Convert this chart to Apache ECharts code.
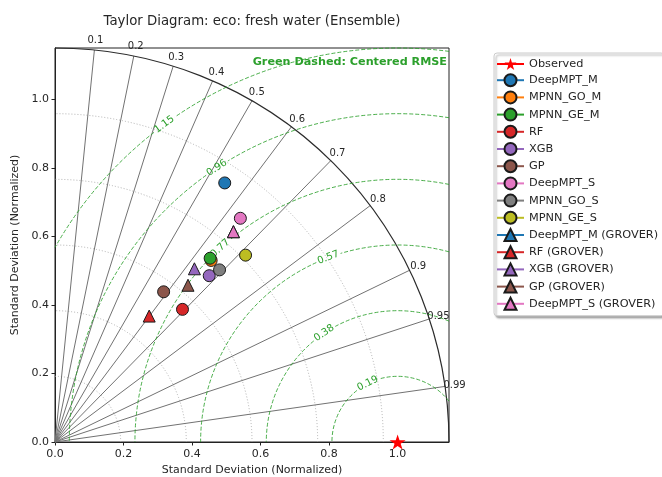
<!DOCTYPE html>
<html>
<head>
<meta charset="utf-8">
<script src="https://cdn.jsdelivr.net/npm/echarts@6/dist/echarts.min.js"></script>
<style>
html,body{margin:0;padding:0;background:#ffffff;}
#chart{width:662px;height:477px;}
</style>
</head>
<body>
<div id="chart"></div>
<script>
// ---------------- data ----------------
const titleText = 'Taylor Diagram: eco: fresh water (Ensemble)';
const axisTitle = 'Standard Deviation (Normalized)';
const rmseNote = 'Green Dashed: Centered RMSE';
const stdTicks = [0.0, 0.2, 0.4, 0.6, 0.8, 1.0];
const stdMax = 1.15;
const stdGridLevels = [0.1917, 0.3833, 0.575, 0.7667, 0.9583];
const corrTicks = [0.1, 0.2, 0.3, 0.4, 0.5, 0.6, 0.7, 0.8, 0.9, 0.95, 0.99];
const rmseLevels = [0.1917, 0.3833, 0.575, 0.7667, 0.9583, 1.15];
const rmseLabels = ['0.19', '0.38', '0.57', '0.77', '0.96', '1.15'];
const observedName = 'Observed';
const observedStd = 1.0;
const observedCorr = 1.0;
const modelNames = ['DeepMPT_M', 'MPNN_GO_M', 'MPNN_GE_M', 'RF', 'XGB', 'GP', 'DeepMPT_S', 'MPNN_GO_S', 'MPNN_GE_S',
  'DeepMPT_M (GROVER)', 'RF (GROVER)', 'XGB (GROVER)', 'GP (GROVER)', 'DeepMPT_S (GROVER)'];
const modelStd  = [0.904, 0.699, 0.702, 0.537, 0.662, 0.541, 0.848, 0.695, 0.779, 0.805, 0.459, 0.649, 0.600, 0.805];
const modelCorr = [0.548, 0.652, 0.645, 0.693, 0.680, 0.586, 0.638, 0.691, 0.714, 0.647, 0.599, 0.627, 0.647, 0.647];

// ---------------- styles / layout ----------------
const FONT = '"DejaVu Sans", "Liberation Sans", sans-serif';
const TXT = '#262626';
const GREEN = '#2ca02c';
const modelColors = ['#1f77b4', '#ff7f0e', '#2ca02c', '#d62728', '#9467bd', '#8c564b', '#e377c2', '#7f7f7f', '#bcbd22',
  '#1f77b4', '#d62728', '#9467bd', '#8c564b', '#e377c2'];
const modelSymbols = ['circle','circle','circle','circle','circle','circle','circle','circle','circle',
  'triangle','triangle','triangle','triangle','triangle'];
const rmseLabelAngles = [117, 124, 110.6, 132.5, 123.4, 126.3]; // placement of contour labels (deg around the reference point)
const corrLabelRadius = 1.178;
const STAR = 'path://M0,-10L2.245,-3.09L9.51,-3.09L3.63,1.18L5.88,8.09L0,3.82L-5.88,8.09L-3.63,1.18L-9.51,-3.09L-2.245,-3.09Z';

function toXY(std, corr) {
  return [std * corr, std * Math.sqrt(Math.max(0, 1 - corr * corr))];
}
function arcEl(cx, cy, r, a, b, style) { // a<b math degrees (counter-clockwise)
  return {
    type: 'arc',
    shape: {cx: cx, cy: cy, r: r, startAngle: -a * Math.PI / 180, endAngle: -b * Math.PI / 180, clockwise: false},
    style: Object.assign({fill: 'none'}, style),
    silent: true
  };
}
const D = 180 / Math.PI;

const series = [];

// std-dev dotted circles
series.push({
  type: 'custom', coordinateSystem: 'cartesian2d', silent: true, z: 1,
  data: stdGridLevels.map(v => [v, 0]), encode: {x: 0, y: 1},
  renderItem: function (params, api) {
    const r = api.value(0);
    const o = api.coord([0, 0]);
    const rp = api.coord([r, 0])[0] - o[0];
    return arcEl(o[0], o[1], rp, 0, 90, {stroke: '#a8a8a8', lineWidth: 0.9, lineDash: [1, 2]});
  }
});

// correlation radial lines + labels
series.push({
  type: 'custom', coordinateSystem: 'cartesian2d', silent: true, z: 2,
  data: corrTicks.map(v => [v, 0]), encode: {x: 0, y: 1},
  renderItem: function (params, api) {
    const c = api.value(0);
    const s = Math.sqrt(1 - c * c);
    const o = api.coord([0, 0]);
    const e = api.coord([stdMax * c, stdMax * s]);
    const t = api.coord([corrLabelRadius * c, corrLabelRadius * s]);
    return {
      type: 'group',
      children: [
        {type: 'line', shape: {x1: o[0], y1: o[1], x2: e[0], y2: e[1]}, style: {stroke: '#727272', lineWidth: 1}, silent: true},
        {type: 'text', x: t[0], y: t[1], silent: true,
          style: {text: String(corrTicks[params.dataIndex]), fill: TXT, font: '10px ' + FONT,
            align: 'center', verticalAlign: 'middle', textAlign: 'center', textVerticalAlign: 'middle'}}
      ]
    };
  }
});

// outer arc
series.push({
  type: 'custom', coordinateSystem: 'cartesian2d', silent: true, z: 3,
  data: [[stdMax, 0]], encode: {x: 0, y: 1},
  renderItem: function (params, api) {
    const o = api.coord([0, 0]);
    const rp = api.coord([api.value(0), 0])[0] - o[0];
    return arcEl(o[0], o[1], rp, 0, 90, {stroke: '#2b2b2b', lineWidth: 1.2});
  }
});

// centered RMSE contours (green dashed) with inline labels
series.push({
  type: 'custom', coordinateSystem: 'cartesian2d', silent: true, z: 4,
  data: rmseLevels.map(v => [v, 0]), encode: {x: 0, y: 1},
  renderItem: function (params, api) {
    const i = params.dataIndex;
    const r = api.value(0);
    const c = api.coord([observedStd, 0]);
    const rp = api.coord([observedStd + r, 0])[0] - c[0];
    const a = Math.acos(Math.min(1, (stdMax - observedStd) / r)) * D;
    const b = r > observedStd ? Math.acos(-observedStd / r) * D : 180;
    const phi = rmseLabelAngles[i];
    const g = (13 / rp) * D;
    const st = {stroke: 'rgba(44,160,44,0.85)', lineWidth: 1, lineDash: [4, 2]};
    const px = c[0] + rp * Math.cos(phi / D);
    const py = c[1] - rp * Math.sin(phi / D);
    return {
      type: 'group',
      children: [
        arcEl(c[0], c[1], rp, a, phi - g, st),
        arcEl(c[0], c[1], rp, phi + g, b, st),
        {type: 'text', x: px, y: py, rotation: (phi - 90) / D, silent: true,
          style: {text: rmseLabels[i], fill: GREEN, font: '10px ' + FONT,
            align: 'center', verticalAlign: 'middle', textAlign: 'center', textVerticalAlign: 'middle'}}
      ]
    };
  }
});

// observed reference
series.push({
  type: 'line', name: observedName, data: [toXY(observedStd, observedCorr)],
  symbol: STAR, symbolSize: 16, symbolKeepAspect: true, clip: false, z: 20, silent: true,
  itemStyle: {color: '#ff0000', borderWidth: 0},
  lineStyle: {color: '#ff0000', width: 1.5}
});

// models
modelNames.forEach(function (name, i) {
  series.push({
    type: 'line', name: name, data: [toXY(modelStd[i], modelCorr[i])],
    symbol: modelSymbols[i], symbolSize: 12, clip: false, z: 10 + i * 0.01, silent: true,
    itemStyle: {color: modelColors[i], borderColor: '#1a1a1a', borderWidth: 1},
    lineStyle: {color: modelColors[i], width: 1.5}
  });
});

const chart = echarts.init(document.getElementById('chart'), null, {renderer: 'canvas'});
const axisCommon = {
  type: 'value', min: 0, max: stdMax, interval: 0.2,
  nameLocation: 'middle',
  nameTextStyle: {fontFamily: FONT, fontSize: 11, color: TXT},
  axisLine: {show: true, lineStyle: {color: '#222', width: 1}},
  axisTick: {show: true, length: 3.5, customValues: stdTicks, lineStyle: {color: '#222', width: 1}},
  axisLabel: {customValues: stdTicks, fontFamily: FONT, fontSize: 11, color: TXT,
    formatter: function (v) { return Number(v).toFixed(1); }},
  splitLine: {show: false}
};
chart.setOption({
  animation: false,
  backgroundColor: '#ffffff',
  title: {
    text: titleText, left: 252, top: 15, textAlign: 'center', padding: 0,
    textStyle: {fontFamily: FONT, fontSize: 13.3, fontWeight: 'normal', color: TXT}
  },
  grid: {left: 55, top: 48, width: 394, height: 394, show: true, borderColor: '#222', borderWidth: 1,
    backgroundColor: 'transparent', containLabel: false, outerBoundsMode: 'none'},
  xAxis: Object.assign({}, axisCommon, {name: axisTitle, nameGap: 22,
    axisLabel: Object.assign({}, axisCommon.axisLabel, {margin: 7})}),
  yAxis: Object.assign({}, axisCommon, {name: axisTitle, nameGap: 26,
    axisLabel: Object.assign({}, axisCommon.axisLabel, {margin: 6})}),
  legend: {
    orient: 'vertical', left: 494, top: 53,
    itemWidth: 27, itemHeight: 15, itemGap: 3.2,
    padding: [5, 6, 5, 2],
    backgroundColor: '#ffffff', borderColor: '#cccccc', borderWidth: 1, borderRadius: 3,
    shadowColor: 'rgba(0,0,0,0.35)', shadowBlur: 2, shadowOffsetX: 2, shadowOffsetY: 2,
    selectedMode: false,
    textStyle: {fontFamily: FONT, fontSize: 11.3, color: TXT},
    data: [observedName].concat(modelNames)
  },
  graphic: [{
    type: 'text', right: 662 - 447, top: 57, silent: true, z: 50,
    style: {text: rmseNote, fill: GREEN, font: 'bold 11.2px ' + FONT}
  }],
  series: series
});
</script>
</body>
</html>
